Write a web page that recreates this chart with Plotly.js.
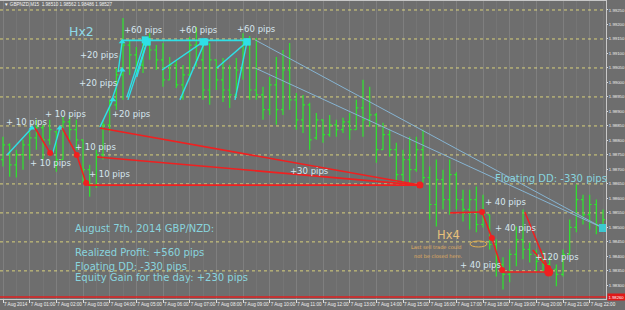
<!DOCTYPE html>
<html>
<head>
<meta charset="utf-8">
<script src="https://cdn.plot.ly/plotly-3.0.1.min.js"></script>
<style>
html,body{margin:0;padding:0;background:#6e6e6e;}
#chart{width:625px;height:310px;}
</style>
</head>
<body>
<div id="chart"></div>
<script>
// ---- data (GBPNZD M15, 7 Aug 2014) ----
const day = '2014-08-07';
const barTimes = ['00:00','00:15','00:30','00:45','01:00','01:15','01:30','01:45','02:00','02:15','02:30','02:45',
'03:00','03:15','03:30','03:45','04:00','04:15','04:30','04:45','05:00','05:15','05:30','05:45',
'06:00','06:15','06:30','06:45','07:00','07:15','07:30','07:45','08:00','08:15','08:30','08:45',
'09:00','09:15','09:30','09:45','10:00','10:15','10:30','10:45','11:00','11:15','11:30','11:45',
'12:00','12:15','12:30','12:45','13:00','13:15','13:30','13:45','14:00','14:15','14:30','14:45',
'15:00','15:15','15:30','15:45','16:00','16:15','16:30','16:45','17:00','17:15','17:30','17:45',
'18:00','18:15','18:30','18:45','19:00','19:15','19:30','19:45','20:00','20:15','20:30','20:45',
'21:00','21:15','21:30','21:45','22:00','22:15','22:30'];
const open = [1.98734,1.98785,1.98716,1.98751,1.98785,1.98809,1.98844,1.98802,1.98830,1.98734,
1.98864,1.98837,1.98802,1.98699,1.98648,1.98751,1.98854,1.98923,1.99026,1.99129,
1.99095,1.99060,1.99129,1.99112,1.99078,1.99009,1.99060,1.98992,1.99026,1.99129,
1.99078,1.98974,1.99078,1.99009,1.98974,1.98957,1.99043,1.99146,1.98974,1.98957,
1.98906,1.98992,1.98906,1.99043,1.98940,1.98871,1.98923,1.98809,1.98871,1.98820,
1.98854,1.98837,1.98864,1.98837,1.98912,1.98871,1.98888,1.98768,1.98820,1.98768,
1.98682,1.98734,1.98699,1.98768,1.98672,1.98579,1.98665,1.98596,1.98682,1.98596,
1.98562,1.98596,1.98510,1.98544,1.98441,1.98372,1.98338,1.98407,1.98458,1.98424,
1.98407,1.98383,1.98372,1.98355,1.98338,1.98407,1.98500,1.98596,1.98544,1.98579,
1.98510];
const high = [1.98813,1.98790,1.98768,1.98802,1.98830,1.98871,1.98854,1.98871,1.98833,1.98881,
1.98888,1.98871,1.98802,1.98716,1.98768,1.98871,1.98940,1.99050,1.99222,1.99146,
1.99122,1.99157,1.99170,1.99129,1.99136,1.99088,1.99078,1.99060,1.99157,1.99191,
1.99146,1.99136,1.99078,1.99084,1.99060,1.99084,1.99170,1.99160,1.99153,1.98985,
1.99019,1.99088,1.99112,1.99136,1.98964,1.98957,1.98930,1.98895,1.98871,1.98888,
1.98871,1.98878,1.98895,1.98940,1.99009,1.98985,1.98895,1.98861,1.98837,1.98792,
1.98768,1.98813,1.98813,1.98837,1.98710,1.98734,1.98699,1.98734,1.98690,1.98630,
1.98630,1.98641,1.98613,1.98544,1.98458,1.98397,1.98424,1.98503,1.98562,1.98448,
1.98424,1.98417,1.98400,1.98372,1.98424,1.98527,1.98648,1.98613,1.98613,1.98596,
1.98562];
const low = [1.98710,1.98675,1.98672,1.98699,1.98734,1.98768,1.98734,1.98785,1.98692,1.98734,
1.98802,1.98768,1.98654,1.98606,1.98637,1.98734,1.98830,1.98906,1.98940,1.99026,
1.99033,1.99033,1.99078,1.99043,1.98985,1.99009,1.98981,1.98940,1.99009,1.99054,
1.98940,1.98923,1.98974,1.98933,1.98912,1.98950,1.99009,1.98940,1.98940,1.98871,
1.98888,1.98854,1.98888,1.98906,1.98837,1.98826,1.98768,1.98802,1.98792,1.98813,
1.98813,1.98826,1.98802,1.98837,1.98813,1.98847,1.98723,1.98768,1.98744,1.98654,
1.98654,1.98654,1.98692,1.98654,1.98527,1.98503,1.98562,1.98544,1.98562,1.98520,
1.98493,1.98483,1.98500,1.98424,1.98331,1.98286,1.98311,1.98366,1.98390,1.98379,
1.98345,1.98345,1.98331,1.98297,1.98331,1.98407,1.98483,1.98510,1.98493,1.98476,
1.98486];
const close = [1.98785,1.98716,1.98751,1.98785,1.98809,1.98844,1.98802,1.98837,1.98734,1.98864,
1.98837,1.98802,1.98699,1.98648,1.98751,1.98854,1.98923,1.99026,1.99129,1.99095,
1.99060,1.99129,1.99112,1.99078,1.99009,1.99060,1.98992,1.99026,1.99129,1.99078,
1.98974,1.99078,1.99009,1.98974,1.98957,1.99043,1.99146,1.98974,1.98957,1.98906,
1.98992,1.98906,1.99043,1.98940,1.98871,1.98923,1.98802,1.98871,1.98820,1.98854,
1.98837,1.98864,1.98837,1.98912,1.98871,1.98888,1.98768,1.98820,1.98768,1.98682,
1.98734,1.98699,1.98768,1.98672,1.98579,1.98665,1.98596,1.98682,1.98596,1.98562,
1.98596,1.98510,1.98544,1.98441,1.98372,1.98338,1.98407,1.98458,1.98424,1.98407,
1.98383,1.98372,1.98355,1.98338,1.98407,1.98500,1.98596,1.98544,1.98579,1.98510,
1.98527];

// buy trades (Hx2 grid)
const buyOpenT  = ['00:09','01:52','03:38','04:05','04:19','04:39','04:41','05:01','05:58','06:38','08:01','08:42'];
const buyOpenP  = [1.98750,1.98757,1.98846,1.98940,1.99036,1.98950,1.98940,1.99019,1.99043,1.98940,1.99050,1.98940];
const buyCloseT = ['01:05','02:08','04:07','04:28','04:28','05:20','05:24','05:24','07:30','07:34','09:09','09:09'];
const buyCloseP = [1.98843,1.98843,1.98940,1.99043,1.99140,1.99147,1.99140,1.99140,1.99140,1.99140,1.99140,1.99140];
const hx2LevelT = ['04:28','09:09'];
const hx2LevelP = [1.99145,1.99145];
// open buys still floating
const floatOpenT = ['09:27','09:27'];
const floatOpenP = [1.99147,1.99050];
const floatNowT = '22:30';
const floatNowP = 1.98498;
// sell trades
const sellOpenT  = ['01:12','02:13','02:46','03:38','03:32','03:11','16:46','17:58','18:20','18:43','19:34','19:52'];
const sellOpenP  = [1.98843,1.98843,1.98750,1.98843,1.98743,1.98646,1.98550,1.98553,1.98463,1.98346,1.98553,1.98422];
const sellCloseT = ['01:46','02:46','03:07','15:38','15:38','15:38','17:58','18:20','18:43','20:28','20:26','20:26'];
const sellCloseP = [1.98757,1.98750,1.98653,1.98646,1.98646,1.98646,1.98553,1.98463,1.98353,1.98346,1.98360,1.98360];

const gridLevels = [1.99250,1.99150,1.99050,1.98950,1.98850,1.98750,1.98650,1.98550,1.98450,1.98350];
const priceTicks = [1.98300,1.98350,1.98400,1.98450,1.98500,1.98550,1.98600,1.98650,1.98700,1.98750,
1.98800,1.98850,1.98900,1.98950,1.99000,1.99050,1.99100,1.99150,1.99200,1.99250];
const hourTicks = ['00:00','01:00','02:00','03:00','04:00','05:00','06:00','07:00','08:00','09:00','10:00','11:00',
'12:00','13:00','14:00','15:00','16:00','17:00','18:00','19:00','20:00','21:00','22:00'];
const hourLabels = ['7 Aug 2014','7 Aug 01:00','7 Aug 02:00','7 Aug 03:00','7 Aug 04:00','7 Aug 05:00','7 Aug 06:00',
'7 Aug 07:00','7 Aug 08:00','7 Aug 09:00','7 Aug 10:00','7 Aug 11:00','7 Aug 12:00','7 Aug 13:00','7 Aug 14:00',
'7 Aug 15:00','7 Aug 16:00','7 Aug 17:00','7 Aug 18:00','7 Aug 19:00','7 Aug 20:00','7 Aug 21:00','7 Aug 22:00'];
const bidPrice = 1.98260;
const header = '\u25BC GBPNZD,M15  1.98510 1.98562 1.98486 1.98527';

// ---- build ----
const T = t => day + ' ' + t;
const FONT = 'DejaVu Sans';
const AXFONT = 'Liberation Sans';
const CYAN = '#2ee0e6', RED = '#f02020', GREEN = '#2ee62e';

function segs(ot, op, ct, cp) {
  const x = [], y = [];
  for (let i = 0; i < ot.length; i++) { x.push(T(ot[i]), T(ct[i]), null); y.push(op[i], cp[i], null); }
  return {x, y};
}
const buySeg = segs(buyOpenT, buyOpenP, buyCloseT, buyCloseP);
const sellSeg = segs(sellOpenT, sellOpenP, sellCloseT, sellCloseP);
const floatSeg = segs(floatOpenT, floatOpenP, floatOpenT.map(() => floatNowT), floatOpenP.map(() => floatNowP));

const traces = [
  {type:'ohlc', x: barTimes.map(T), open, high, low, close,
   increasing:{line:{color:GREEN, width:1.2}}, decreasing:{line:{color:GREEN, width:1.2}},
   tickwidth:0.3, hoverinfo:'skip', showlegend:false},
  {type:'scatter', mode:'lines', x: floatSeg.x, y: floatSeg.y, line:{color:'#86b4d2', width:1}, hoverinfo:'skip', showlegend:false},
  {type:'scatter', mode:'lines', x: hx2LevelT.map(T), y: hx2LevelP, line:{color:CYAN, width:1.6}, hoverinfo:'skip', showlegend:false},
  {type:'scatter', mode:'lines', x: buySeg.x, y: buySeg.y, line:{color:CYAN, width:1.4}, hoverinfo:'skip', showlegend:false},
  {type:'scatter', mode:'markers', x: buyCloseT.map(T), y: buyCloseP,
   marker:{color:CYAN, opacity:1, line:{width:0}, size:buyCloseT.map((_, i) => i < 5 ? 6 : 7), symbol: buyCloseT.map((_, i) => i < 5 ? 'triangle-up' : 'square')},
   hoverinfo:'skip', showlegend:false},
  {type:'scatter', mode:'markers', x:[T(floatNowT)], y:[floatNowP], marker:{color:'#3cc8d0', opacity:1, line:{width:0}, size:8, symbol:'square'}, hoverinfo:'skip', showlegend:false},
  {type:'scatter', mode:'lines', x: sellSeg.x, y: sellSeg.y, line:{color:RED, width:1.6}, hoverinfo:'skip', showlegend:false},
  {type:'scatter', mode:'markers', x: sellCloseT.map(T), y: sellCloseP,
   marker:{color:RED, opacity:1, line:{width:0}, size: sellCloseT.map((_, i) => i === 9 ? 9 : (i === 3 ? 7 : 6)), symbol:'circle'},
   hoverinfo:'skip', showlegend:false}
];

const shapes = gridLevels.map(p => ({type:'line', xref:'paper', x0:0, x1:1, yref:'y', y0:p, y1:p,
  line:{color:'#d8d07a', width:1, dash:'dot'}, layer:'below'}));
shapes.push({type:'line', xref:'paper', x0:0, x1:1, yref:'y', y0:bidPrice, y1:bidPrice, line:{color:'#e02020', width:1.5}});
shapes.push({type:'circle', xref:'paper', yref:'paper', x0:0.7756, x1:0.8036, y0:0.1745, y1:0.1946, line:{color:'#e2b050', width:1}});

const PIPS = '#d6e6ee', INFO = '#88d4de';
const labels = [
  ['Hx2', 0.1106, 0.8993, '#8edbe8', 12.5],
  ['+60 pips', 0.2013, 0.9027, PIPS, 8.5],
  ['+60 pips', 0.2921, 0.9027, PIPS, 8.5],
  ['+60 pips', 0.3878, 0.9060, PIPS, 8.5],
  ['+20 pips', 0.1287, 0.8188, PIPS, 8.5],
  ['+20 pips', 0.1271, 0.7248, PIPS, 8.5],
  ['+20 pips', 0.1815, 0.6208, PIPS, 8.5],
  ['+ 10 pips', 0.0066, 0.5940, PIPS, 8.5],
  ['+ 10 pips', 0.0710, 0.6208, PIPS, 8.5],
  ['+ 10 pips', 0.0462, 0.4564, PIPS, 8.5],
  ['+ 10 pips', 0.1205, 0.5101, PIPS, 8.5],
  ['+ 10 pips', 0.1436, 0.4195, PIPS, 8.5],
  ['+30 pips', 0.4752, 0.4295, PIPS, 8.5],
  ['Floating DD: -330 pips', 0.8135, 0.4060, INFO, 10],
  ['+ 40 pips', 0.7970, 0.3255, PIPS, 8.5],
  ['+ 40 pips', 0.8135, 0.2383, PIPS, 8.5],
  ['+ 40 pips', 0.7558, 0.1141, PIPS, 8.5],
  ['+120 pips', 0.8795, 0.1409, PIPS, 8.5],
  ['Hx4', 0.7178, 0.2148, '#e8c07a', 11.5],
  ['August 7th, 2014 GBP/NZD:', 0.1205, 0.2349, INFO, 10],
  ['Realized Profit: +560 pips', 0.1205, 0.1544, INFO, 10],
  ['Floating DD: -330 pips', 0.1205, 0.1107, INFO, 10],
  ['Equity Gain for the day: +230 pips', 0.1205, 0.0705, INFO, 10]
];
const annotations = labels.map(l => ({text:l[0], xref:'paper', yref:'paper', x:l[1], y:l[2], xanchor:'left', yanchor:'middle',
  showarrow:false, font:{family:FONT, size:l[4], color:l[3]}}));
annotations.push({text:'Last sell trade could', xref:'paper', yref:'paper', x:0.7211, y:0.1745, xanchor:'center', yanchor:'middle', showarrow:false, font:{family:FONT, size:5, color:'#e2b060'}});
annotations.push({text:'not be closed here.', xref:'paper', yref:'paper', x:0.7244, y:0.1443, xanchor:'center', yanchor:'middle', showarrow:false, font:{family:FONT, size:5, color:'#e2b060'}});
annotations.push({text:header, xref:'paper', yref:'paper', x:0.003, y:0.9866, xanchor:'left', yanchor:'middle', showarrow:false, font:{family:AXFONT, size:4.6, color:'#f2f2f2'}});
annotations.push({text:bidPrice.toFixed(5), xref:'paper', yref:'y', x:1.001, y:bidPrice, xanchor:'left', yanchor:'middle', showarrow:false,
  bgcolor:'#e01818', borderpad:0.5, font:{family:AXFONT, size:4.2, color:'#ffffff'}});

const layout = {
  width:625, height:310,
  margin:{l:0, r:19, t:1, b:11, pad:0},
  paper_bgcolor:'#6e6e6e', plot_bgcolor:'#6e6e6e',
  showlegend:false,
  xaxis:{type:'date', range:['2014-08-06 23:53:15','2014-08-07 22:36:45'],
    tickmode:'array', tickvals: hourTicks.map(T), ticktext: hourLabels,
    ticklabelposition:'outside right', tickangle:0, automargin:false,
    tickfont:{family:AXFONT, size:4.6, color:'#eeeeee'},
    ticks:'outside', ticklen:3, tickcolor:'#dddddd', tickwidth:1,
    showgrid:true, gridcolor:'rgba(255,255,255,0.08)', gridwidth:1,
    minor:{dtick:1800000, tick0:'2014-08-07 00:00', showgrid:true, gridcolor:'rgba(255,255,255,0.05)', ticks:''},
    showline:true, linecolor:'#c8c8c8', linewidth:1, mirror:true,
    zeroline:false, rangeslider:{visible:false}, fixedrange:true},
  yaxis:{side:'right', range:[1.98253, 1.99281], automargin:false,
    tickmode:'array', tickvals: priceTicks, ticktext: priceTicks.map(p => p.toFixed(5)),
    tickfont:{family:AXFONT, size:4.3, color:'#eeeeee'},
    ticks:'outside', ticklen:1, tickcolor:'#dddddd',
    showgrid:false, showline:true, linecolor:'#c8c8c8', linewidth:1,
    zeroline:false, fixedrange:true},
  shapes, annotations
};

Plotly.newPlot('chart', traces, layout, {staticPlot:true, displayModeBar:false});
</script>
</body>
</html>
